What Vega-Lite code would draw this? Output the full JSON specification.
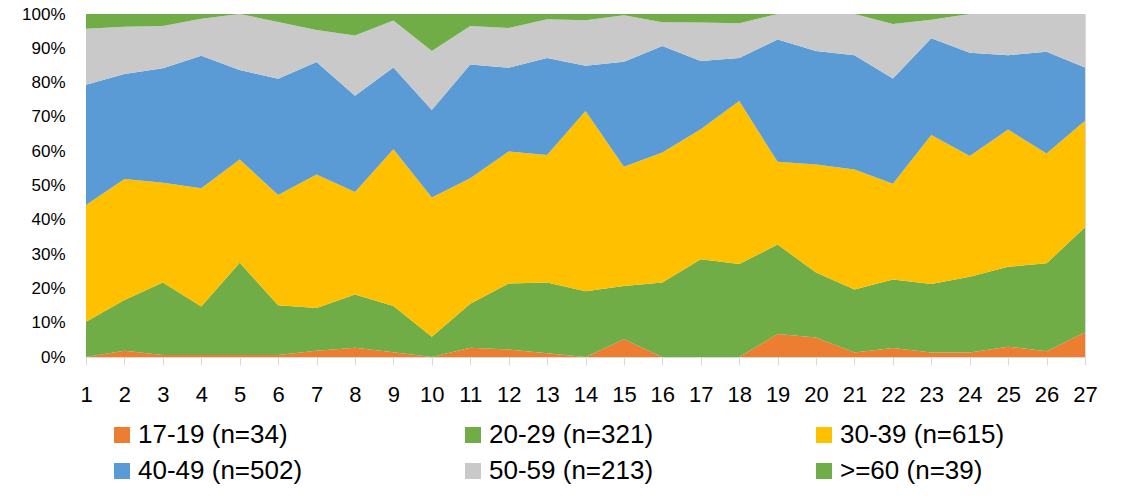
{
  "$schema": "https://vega.github.io/schema/vega-lite/v6.json",
  "width": 999,
  "height": 343,
  "autosize": {"type": "none"},
  "padding": {"left": 86, "top": 14, "right": 37, "bottom": 142},
  "background": "white",
  "title": {
    "text": "Age group",
    "font": "Liberation Sans",
    "fontSize": 52,
    "fontWeight": "normal",
    "color": "#000000",
    "anchor": "middle",
    "frame": "group",
    "baseline": "alphabetic",
    "offset": 0,
    "dy": 35,
    "dx": -12,
    "zindex": 1
  },
  "config": {
    "view": {"stroke": "#D9D9D9", "strokeWidth": 1},
    "font": "Liberation Sans"
  },
  "data": {
    "values": [
      {"x":1,"group":"17-19 (n=34)","pct":0},{"x":1,"group":"20-29 (n=321)","pct":10.3},{"x":1,"group":"30-39 (n=615)","pct":34.0},{"x":1,"group":"40-49 (n=502)","pct":35.1},{"x":1,"group":"50-59 (n=213)","pct":16.3},{"x":1,"group":">=60 (n=39)","pct":4.3},
      {"x":2,"group":"17-19 (n=34)","pct":1.8},{"x":2,"group":"20-29 (n=321)","pct":14.8},{"x":2,"group":"30-39 (n=615)","pct":35.3},{"x":2,"group":"40-49 (n=502)","pct":30.6},{"x":2,"group":"50-59 (n=213)","pct":13.8},{"x":2,"group":">=60 (n=39)","pct":3.7},
      {"x":3,"group":"17-19 (n=34)","pct":0.6},{"x":3,"group":"20-29 (n=321)","pct":21.1},{"x":3,"group":"30-39 (n=615)","pct":29.1},{"x":3,"group":"40-49 (n=502)","pct":33.4},{"x":3,"group":"50-59 (n=213)","pct":12.3},{"x":3,"group":">=60 (n=39)","pct":3.5},
      {"x":4,"group":"17-19 (n=34)","pct":0.6},{"x":4,"group":"20-29 (n=321)","pct":14.1},{"x":4,"group":"30-39 (n=615)","pct":34.5},{"x":4,"group":"40-49 (n=502)","pct":38.6},{"x":4,"group":"50-59 (n=213)","pct":10.8},{"x":4,"group":">=60 (n=39)","pct":1.4},
      {"x":5,"group":"17-19 (n=34)","pct":0.6},{"x":5,"group":"20-29 (n=321)","pct":26.9},{"x":5,"group":"30-39 (n=615)","pct":30.1},{"x":5,"group":"40-49 (n=502)","pct":26.1},{"x":5,"group":"50-59 (n=213)","pct":16.3},{"x":5,"group":">=60 (n=39)","pct":0},
      {"x":6,"group":"17-19 (n=34)","pct":0.6},{"x":6,"group":"20-29 (n=321)","pct":14.5},{"x":6,"group":"30-39 (n=615)","pct":32.1},{"x":6,"group":"40-49 (n=502)","pct":33.9},{"x":6,"group":"50-59 (n=213)","pct":16.6},{"x":6,"group":">=60 (n=39)","pct":2.3},
      {"x":7,"group":"17-19 (n=34)","pct":1.8},{"x":7,"group":"20-29 (n=321)","pct":12.5},{"x":7,"group":"30-39 (n=615)","pct":38.9},{"x":7,"group":"40-49 (n=502)","pct":32.8},{"x":7,"group":"50-59 (n=213)","pct":9.3},{"x":7,"group":">=60 (n=39)","pct":4.7},
      {"x":8,"group":"17-19 (n=34)","pct":2.7},{"x":8,"group":"20-29 (n=321)","pct":15.5},{"x":8,"group":"30-39 (n=615)","pct":29.9},{"x":8,"group":"40-49 (n=502)","pct":28.1},{"x":8,"group":"50-59 (n=213)","pct":17.5},{"x":8,"group":">=60 (n=39)","pct":6.3},
      {"x":9,"group":"17-19 (n=34)","pct":1.4},{"x":9,"group":"20-29 (n=321)","pct":13.5},{"x":9,"group":"30-39 (n=615)","pct":45.7},{"x":9,"group":"40-49 (n=502)","pct":23.8},{"x":9,"group":"50-59 (n=213)","pct":13.7},{"x":9,"group":">=60 (n=39)","pct":1.9},
      {"x":10,"group":"17-19 (n=34)","pct":0},{"x":10,"group":"20-29 (n=321)","pct":5.9},{"x":10,"group":"30-39 (n=615)","pct":40.6},{"x":10,"group":"40-49 (n=502)","pct":25.5},{"x":10,"group":"50-59 (n=213)","pct":17.2},{"x":10,"group":">=60 (n=39)","pct":10.8},
      {"x":11,"group":"17-19 (n=34)","pct":2.7},{"x":11,"group":"20-29 (n=321)","pct":12.8},{"x":11,"group":"30-39 (n=615)","pct":36.6},{"x":11,"group":"40-49 (n=502)","pct":33.2},{"x":11,"group":"50-59 (n=213)","pct":11.2},{"x":11,"group":">=60 (n=39)","pct":3.5},
      {"x":12,"group":"17-19 (n=34)","pct":2.2},{"x":12,"group":"20-29 (n=321)","pct":19.2},{"x":12,"group":"30-39 (n=615)","pct":38.5},{"x":12,"group":"40-49 (n=502)","pct":24.4},{"x":12,"group":"50-59 (n=213)","pct":11.6},{"x":12,"group":">=60 (n=39)","pct":4.1},
      {"x":13,"group":"17-19 (n=34)","pct":1.1},{"x":13,"group":"20-29 (n=321)","pct":20.6},{"x":13,"group":"30-39 (n=615)","pct":37.2},{"x":13,"group":"40-49 (n=502)","pct":28.3},{"x":13,"group":"50-59 (n=213)","pct":11.3},{"x":13,"group":">=60 (n=39)","pct":1.5},
      {"x":14,"group":"17-19 (n=34)","pct":0},{"x":14,"group":"20-29 (n=321)","pct":19.2},{"x":14,"group":"30-39 (n=615)","pct":52.5},{"x":14,"group":"40-49 (n=502)","pct":13.2},{"x":14,"group":"50-59 (n=213)","pct":13.3},{"x":14,"group":">=60 (n=39)","pct":1.8},
      {"x":15,"group":"17-19 (n=34)","pct":5.2},{"x":15,"group":"20-29 (n=321)","pct":15.5},{"x":15,"group":"30-39 (n=615)","pct":34.8},{"x":15,"group":"40-49 (n=502)","pct":30.6},{"x":15,"group":"50-59 (n=213)","pct":13.5},{"x":15,"group":">=60 (n=39)","pct":0.4},
      {"x":16,"group":"17-19 (n=34)","pct":0},{"x":16,"group":"20-29 (n=321)","pct":21.7},{"x":16,"group":"30-39 (n=615)","pct":37.9},{"x":16,"group":"40-49 (n=502)","pct":31.1},{"x":16,"group":"50-59 (n=213)","pct":6.9},{"x":16,"group":">=60 (n=39)","pct":2.4},
      {"x":17,"group":"17-19 (n=34)","pct":0},{"x":17,"group":"20-29 (n=321)","pct":28.5},{"x":17,"group":"30-39 (n=615)","pct":37.9},{"x":17,"group":"40-49 (n=502)","pct":19.9},{"x":17,"group":"50-59 (n=213)","pct":11.2},{"x":17,"group":">=60 (n=39)","pct":2.5},
      {"x":18,"group":"17-19 (n=34)","pct":0},{"x":18,"group":"20-29 (n=321)","pct":27.1},{"x":18,"group":"30-39 (n=615)","pct":47.5},{"x":18,"group":"40-49 (n=502)","pct":12.6},{"x":18,"group":"50-59 (n=213)","pct":10.1},{"x":18,"group":">=60 (n=39)","pct":2.7},
      {"x":19,"group":"17-19 (n=34)","pct":6.7},{"x":19,"group":"20-29 (n=321)","pct":26.1},{"x":19,"group":"30-39 (n=615)","pct":24.1},{"x":19,"group":"40-49 (n=502)","pct":35.7},{"x":19,"group":"50-59 (n=213)","pct":7.4},{"x":19,"group":">=60 (n=39)","pct":0},
      {"x":20,"group":"17-19 (n=34)","pct":5.7},{"x":20,"group":"20-29 (n=321)","pct":18.9},{"x":20,"group":"30-39 (n=615)","pct":31.5},{"x":20,"group":"40-49 (n=502)","pct":33.1},{"x":20,"group":"50-59 (n=213)","pct":10.8},{"x":20,"group":">=60 (n=39)","pct":0},
      {"x":21,"group":"17-19 (n=34)","pct":1.3},{"x":21,"group":"20-29 (n=321)","pct":18.4},{"x":21,"group":"30-39 (n=615)","pct":35.0},{"x":21,"group":"40-49 (n=502)","pct":33.3},{"x":21,"group":"50-59 (n=213)","pct":12.0},{"x":21,"group":">=60 (n=39)","pct":0},
      {"x":22,"group":"17-19 (n=34)","pct":2.6},{"x":22,"group":"20-29 (n=321)","pct":20.0},{"x":22,"group":"30-39 (n=615)","pct":27.9},{"x":22,"group":"40-49 (n=502)","pct":30.7},{"x":22,"group":"50-59 (n=213)","pct":15.9},{"x":22,"group":">=60 (n=39)","pct":2.9},
      {"x":23,"group":"17-19 (n=34)","pct":1.3},{"x":23,"group":"20-29 (n=321)","pct":20.0},{"x":23,"group":"30-39 (n=615)","pct":43.4},{"x":23,"group":"40-49 (n=502)","pct":28.2},{"x":23,"group":"50-59 (n=213)","pct":5.4},{"x":23,"group":">=60 (n=39)","pct":1.7},
      {"x":24,"group":"17-19 (n=34)","pct":1.3},{"x":24,"group":"20-29 (n=321)","pct":22.1},{"x":24,"group":"30-39 (n=615)","pct":35.2},{"x":24,"group":"40-49 (n=502)","pct":30.1},{"x":24,"group":"50-59 (n=213)","pct":11.3},{"x":24,"group":">=60 (n=39)","pct":0},
      {"x":25,"group":"17-19 (n=34)","pct":3.0},{"x":25,"group":"20-29 (n=321)","pct":23.3},{"x":25,"group":"30-39 (n=615)","pct":40.0},{"x":25,"group":"40-49 (n=502)","pct":21.7},{"x":25,"group":"50-59 (n=213)","pct":12.0},{"x":25,"group":">=60 (n=39)","pct":0},
      {"x":26,"group":"17-19 (n=34)","pct":1.7},{"x":26,"group":"20-29 (n=321)","pct":25.6},{"x":26,"group":"30-39 (n=615)","pct":32.0},{"x":26,"group":"40-49 (n=502)","pct":29.7},{"x":26,"group":"50-59 (n=213)","pct":11.0},{"x":26,"group":">=60 (n=39)","pct":0},
      {"x":27,"group":"17-19 (n=34)","pct":7.2},{"x":27,"group":"20-29 (n=321)","pct":30.6},{"x":27,"group":"30-39 (n=615)","pct":31.1},{"x":27,"group":"40-49 (n=502)","pct":15.5},{"x":27,"group":"50-59 (n=213)","pct":15.6},{"x":27,"group":">=60 (n=39)","pct":0}
    ]
  },
  "mark": {"type": "area", "interpolate": "linear", "strokeWidth": 0},
  "encoding": {
    "x": {
      "field": "x",
      "type": "quantitative",
      "scale": {"domain": [1, 27], "nice": false, "zero": false},
      "axis": {
        "title": null,
        "values": [1,2,3,4,5,6,7,8,9,10,11,12,13,14,15,16,17,18,19,20,21,22,23,24,25,26,27],
        "format": "d",
        "grid": false,
        "domainColor": "#D9D9D9",
        "domainWidth": 1,
        "tickColor": "#D9D9D9",
        "tickSize": 8,
        "tickWidth": 1,
        "labelFont": "Liberation Sans",
        "labelFontSize": 22,
        "labelColor": "#000000",
        "labelPadding": 19,
        "labelFlush": false,
        "labelOverlap": false
      }
    },
    "y": {
      "field": "pct",
      "type": "quantitative",
      "stack": "normalize",
      "scale": {"domain": [0, 1], "nice": false},
      "axis": {
        "title": null,
        "values": [0,0.1,0.2,0.3,0.4,0.5,0.6,0.7,0.8,0.9,1],
        "format": ".0%",
        "grid": false,
        "domain": false,
        "ticks": false,
        "labelFont": "Liberation Sans",
        "labelFontSize": 17,
        "labelColor": "#000000",
        "labelPadding": 21,
        "labelFlush": false,
        "labelOverlap": false
      }
    },
    "order": {"field": "group", "type": "nominal", "sort": "ascending"},
    "color": {
      "field": "group",
      "type": "nominal",
      "scale": {
        "domain": ["17-19 (n=34)","20-29 (n=321)","30-39 (n=615)","40-49 (n=502)","50-59 (n=213)",">=60 (n=39)"],
        "range": ["#ED7D31","#70AD47","#FFC000","#5B9BD5","#C9C9C9","#70AD47"]
      },
      "legend": {
        "title": null,
        "orient": "none",
        "legendX": 23,
        "legendY": 408,
        "direction": "horizontal",
        "columns": 3,
        "gridAlign": "all",
        "columnPadding": 157,
        "rowPadding": 10,
        "padding": 0,
        "symbolType": "square",
        "symbolSize": 256,
        "symbolStrokeWidth": 0,
        "symbolOpacity": 1,
        "labelFont": "Liberation Sans",
        "labelFontSize": 26,
        "labelColor": "#000000",
        "labelOffset": 3,
        "labelLimit": 400
      }
    }
  }
}
